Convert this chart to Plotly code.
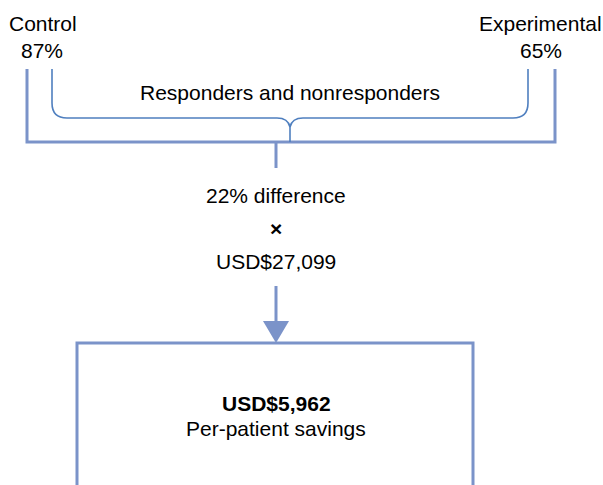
import plotly.graph_objects as go

# Data
groups = ["Control", "Experimental"]
response_pct = [87, 65]
difference_pct = [22]
cost_per_patient = [27099]
savings_per_patient = [5962]
brace_label = ["Responders and nonresponders"]
result_label = ["Per-patient savings"]

W, H = 603, 485
OUTER = "#7B93C9"
INNER = "#4F7FBF"
FONT = "Liberation Sans, Arial, sans-serif"
FS = 21

fig = go.Figure()
fig.add_trace(go.Scatter(x=[0, W], y=[0, H], mode="markers",
                         marker=dict(opacity=0), hoverinfo="skip", showlegend=False))

shapes = []
def line(x0, y0, x1, y1, color=OUTER, width=3):
    shapes.append(dict(type="line", x0=x0, y0=y0, x1=x1, y1=y1,
                       xref="x", yref="y", line=dict(color=color, width=width)))

# outer bracket
shapes.append(dict(type="path", xref="x", yref="y",
                   path="M 27,69 L 27,142 L 555,142 L 555,69",
                   line=dict(color=OUTER, width=3)))
# inner brace
shapes.append(dict(type="path", xref="x", yref="y",
                   path=("M 52,69 L 52,103 Q 52,118 67,118 L 277,118 "
                         "Q 288,118 290,127 Q 292,118 303,118 L 513,118 "
                         "Q 528,118 528,103 L 528,69"),
                   line=dict(color=INNER, width=1.6)))
line(290, 127, 290, 142, INNER, 1.6)
# stem
line(276, 142, 276, 168)
# arrow
line(276, 286, 276, 324)
shapes.append(dict(type="path", xref="x", yref="y",
                   path="M 263,321 L 289,321 L 276,343 Z",
                   fillcolor=OUTER, line=dict(color=OUTER, width=0)))
# result box
shapes.append(dict(type="rect", xref="x", yref="y", x0=77, y0=343, x1=473, y1=520,
                   line=dict(color=OUTER, width=3), fillcolor="rgba(0,0,0,0)"))

ann = []
def text(x, y, s, bold=False):
    ann.append(dict(x=x, y=y, xref="x", yref="y", text=f"<b>{s}</b>" if bold else s,
                    showarrow=False, xanchor="center", yanchor="middle",
                    font=dict(family=FONT, size=FS, color="#000000")))

text(43, 23, groups[0])
text(42, 50, f"{response_pct[0]}%")
text(540, 23, groups[1])
text(541, 50, f"{response_pct[1]}%")
text(290, 92, brace_label[0])
text(276, 195, f"{difference_pct[0]}% difference")
text(276, 228, "×", bold=True)
text(276, 261, f"USD${cost_per_patient[0]:,}")
text(276, 403, f"USD${savings_per_patient[0]:,}", bold=True)
text(276, 428, result_label[0])

fig.update_layout(
    width=W, height=H, margin=dict(l=0, r=0, t=0, b=0),
    paper_bgcolor="white", plot_bgcolor="white",
    xaxis=dict(range=[0, W], visible=False, fixedrange=True),
    yaxis=dict(range=[H, 0], visible=False, fixedrange=True),
    shapes=shapes, annotations=ann, showlegend=False,
)
fig.write_html("out.html", config={"displayModeBar": False},
               post_script="document.body.style.margin='0';document.body.style.overflow='hidden';")
